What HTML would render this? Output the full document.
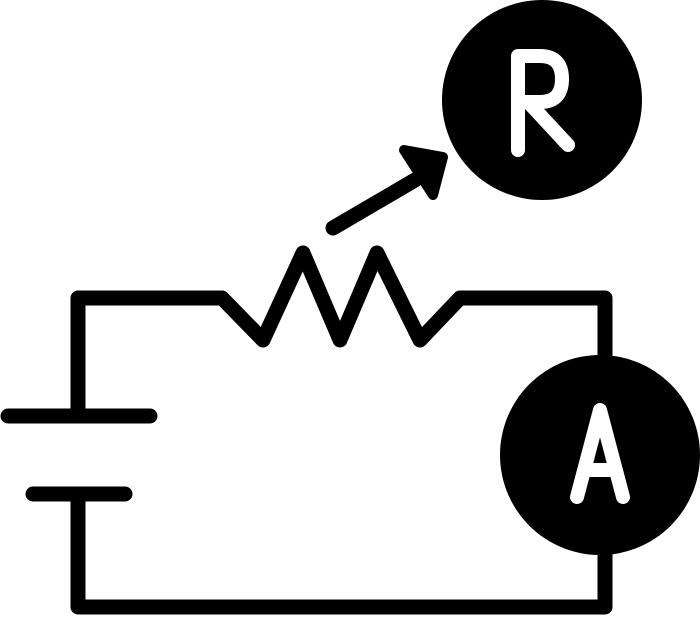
<!DOCTYPE html>
<html><head><style>html,body{margin:0;padding:0;background:#fff}</style></head>
<body>
<svg width="700" height="616" viewBox="0 0 700 616" xmlns="http://www.w3.org/2000/svg">
<g fill="none" stroke="#000" stroke-width="15" stroke-linecap="round" stroke-linejoin="round">
<polyline points="78,416 78,298 222,298 263,340 303,253 340,340 377,253 420,340 460,298 605,298 605,360"/>
<polyline points="78,494 78,607 605,607 605,550"/>
<line x1="8" y1="416" x2="150" y2="416"/>
<line x1="33" y1="494" x2="125" y2="494"/>
<line x1="333" y1="228" x2="415" y2="180"/>
</g>
<polygon points="404,150 443,157 433,195" fill="#000" stroke="#000" stroke-width="10" stroke-linejoin="round"/>
<circle cx="542" cy="100" r="100" fill="#000"/>
<circle cx="600" cy="455" r="100" fill="#000"/>
<g fill="none" stroke="#fff" stroke-width="14" stroke-linecap="round" stroke-linejoin="round">
<path d="M518,150 L518,56 L540,56 Q562,56 562,79 Q562,102 540,102 L522,102 M530,104 L568,145"/>
<path d="M577,497 L600,410 L623,497 M585,470 L615,470"/>
</g>
</svg>
</body></html>
